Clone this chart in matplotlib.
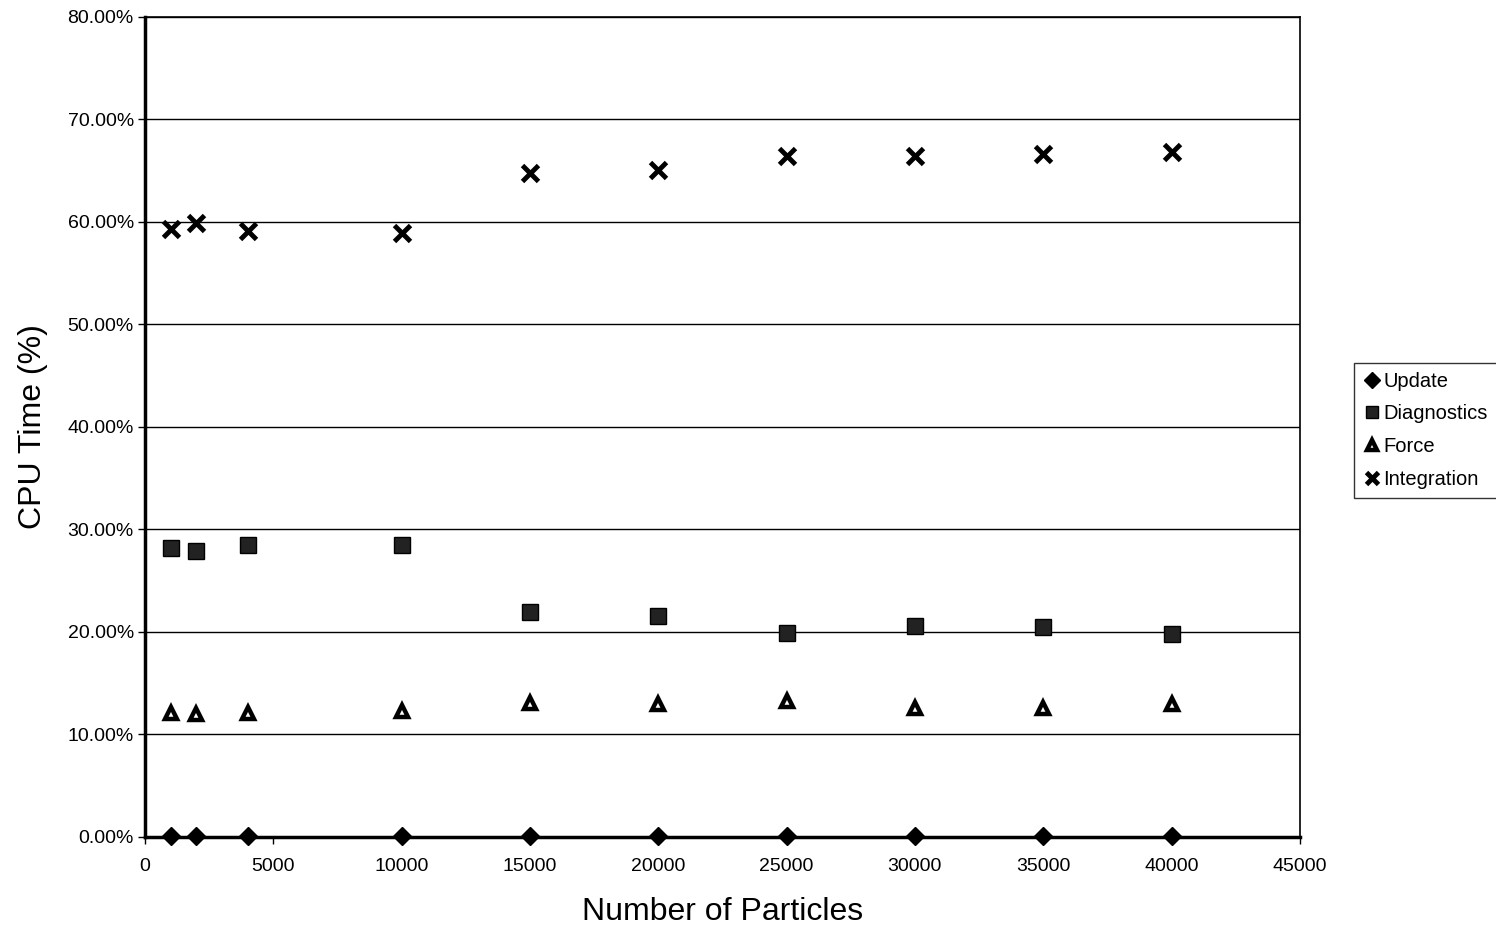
import matplotlib
matplotlib.use("Agg")
import matplotlib.pyplot as plt
from matplotlib.ticker import FuncFormatter

plt.rcParams['font.family'] = ['Liberation Sans', 'DejaVu Sans']

particles = [1000, 2000, 4000, 10000, 15000, 20000, 25000, 30000, 35000, 40000]
update = [0.05, 0.05, 0.05, 0.08, 0.05, 0.05, 0.05, 0.05, 0.05, 0.05]
diagnostics = [28.2, 27.9, 28.5, 28.5, 21.9, 21.6, 19.9, 20.6, 20.5, 19.8]
force = [12.1, 12.0, 12.1, 12.3, 13.1, 13.0, 13.3, 12.6, 12.6, 13.0]
integration = [59.3, 59.9, 59.1, 58.9, 64.8, 65.1, 66.4, 66.4, 66.6, 66.8]

fig = plt.figure(figsize=(14.96, 9.33), dpi=100)
ax = fig.add_axes([0.0969, 0.1029, 0.772, 0.879])

ax.set_axisbelow(True)
ax.grid(axis='y', color='black', linewidth=1.0)

ax.plot(particles, update, linestyle='none', marker='D', markersize=9,
        color='black', label='Update', clip_on=False, zorder=5)
ax.plot(particles, diagnostics, linestyle='none', marker='s', markersize=11,
        markerfacecolor='#222222', markeredgecolor='black', label='Diagnostics', zorder=5)
ax.plot(particles, force, linestyle='none', marker='^', markersize=9,
        markerfacecolor='white', markeredgecolor='black', markeredgewidth=3.2,
        label='Force', zorder=5)
ax.plot(particles, integration, linestyle='none', marker='x', markersize=11,
        markeredgewidth=3.5, color='black', label='Integration', zorder=5)

ax.set_xlim(0, 45000)
ax.set_ylim(0, 80)
ax.set_xticks(range(0, 45001, 5000))
ax.set_yticks(range(0, 81, 10))
ax.yaxis.set_major_formatter(FuncFormatter(lambda v, p: f"{v:.2f}%"))

ax.tick_params(axis='both', labelsize=14, direction='out', length=5, width=1, colors='black')
ax.tick_params(axis='x', pad=10)
ax.tick_params(axis='y', pad=3)
for s in ax.spines.values():
    s.set_color('black')
    s.set_linewidth(1.2)
ax.spines['left'].set_linewidth(2.5)
ax.spines['bottom'].set_linewidth(2.5)

ax.set_xlabel('Number of Particles', fontsize=23, labelpad=16)
ax.set_ylabel('CPU Time (%)', fontsize=23, labelpad=14)

leg = ax.legend(loc='center left', bbox_to_anchor=(1.047, 0.496), fontsize=14.5,
                frameon=True, fancybox=False, edgecolor='black', handletextpad=0.1,
                handlelength=0.9, borderpad=0.45, labelspacing=0.68, markerscale=0.85,
                borderaxespad=0)
leg.get_frame().set_linewidth(1.0)

fig.savefig('out.png', dpi=100)
